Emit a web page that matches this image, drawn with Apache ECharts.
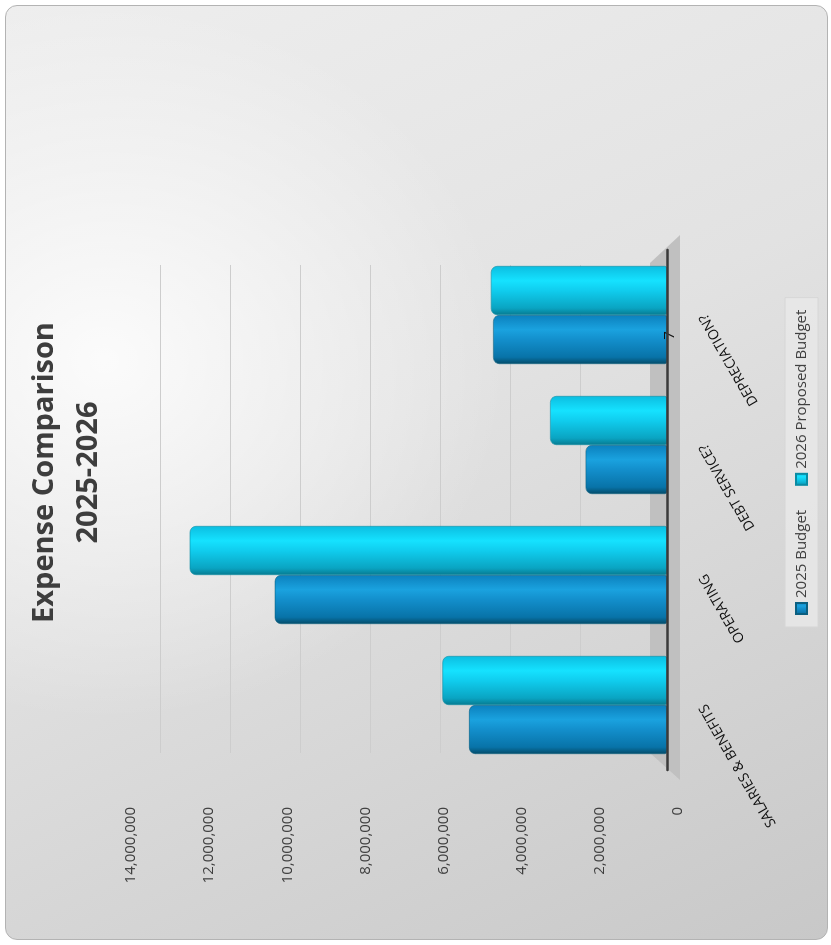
<!DOCTYPE html>
<html>
<head>
<meta charset="utf-8">
<script src="https://cdn.jsdelivr.net/npm/echarts@6/dist/echarts.min.js"></script>
<style>
  html, body { margin: 0; padding: 0; background: #fff; }
  #wrap { position: relative; width: 831px; height: 945px; overflow: hidden; background: #fff; }
  #panel {
    position: absolute; left: 5px; top: 5px; width: 821px; height: 933px;
    border: 1px solid #b3b3b3; border-radius: 12px;
    background:
      radial-gradient(ellipse 70% 55% at 12% 38%, rgba(255,255,255,0.85), rgba(255,255,255,0) 70%),
      linear-gradient(155deg, #eeeeee 0%, #e2e2e2 45%, #c8c8c8 100%);
  }
  /* chart is drawn upright, then turned a quarter to the left like the source */
  #chart {
    position: absolute; left: 0; top: 0; width: 945px; height: 831px;
    transform-origin: 0 0; transform: translate(0, 945px) rotate(-90deg);
  }
</style>
</head>
<body>
<div id="wrap">
  <div id="panel"></div>
  <div id="chart"></div>
</div>
<script>
// data
const categories = ['SALARIES & BENEFITS', 'OPERATING', 'DEBT SERVICE?', 'DEPRECIATION?'];
const budget2025 = [5350000, 10600000, 2200000, 4700000];
const budget2026 = [6070000, 12900000, 3160000, 4760000];
const seriesNames = ['2025 Budget', '2026 Proposed Budget'];
const axisMax = 14000000;
const axisStep = 2000000;

const FONT = '"Open Sans", "Noto Sans", sans-serif';

function cyl(stops) {
    return new echarts.graphic.LinearGradient(0, 0, 1, 0,
        stops.map(function (c) { return { offset: c[0], color: c[1] }; }));
}

const chart = echarts.init(document.getElementById('chart'), null, { renderer: 'canvas' });

const option = {
    backgroundColor: 'transparent',
    animation: false,
    title: {
        text: 'Expense Comparison\n2025-2026',
        left: 'center',
        top: 18,
        textStyle: { fontFamily: FONT, fontSize: 29, fontWeight: 'bold', color: '#3d3d3d', lineHeight: 44 }
    },
    legend: {
        data: seriesNames,
        left: 318,
        top: 785,
        orient: 'horizontal',
        icon: 'rect',
        itemWidth: 11,
        itemHeight: 11,
        itemGap: 24,
        padding: [9, 12],
        backgroundColor: 'rgba(232,232,232,0.85)',
        borderColor: '#d6d6d6',
        borderWidth: 1,
        textStyle: { fontFamily: FONT, fontSize: 15, color: '#404040' }
    },
    graphic: [{
        // grey floor under the bars
        type: 'polygon',
        z: 1,
        silent: true,
        shape: { points: [[192, 650], [682, 650], [710, 680], [165, 680]] },
        style: { fill: '#c0c0c0' }
    }],
    grid: [
        { left: 175, right: 250, top: 149, bottom: 164 },   // bars
        { left: 192, right: 265, top: 160, bottom: 181 },   // back wall lines
        { left: 146, right: 250, top: 131, bottom: 153 }    // value labels
    ],
    xAxis: [
        {
            gridIndex: 0, type: 'category', data: categories, offset: 14, z: 5,
            axisLine: { lineStyle: { color: '#3a3a3a', width: 2.5 } },
            axisTick: { show: false },
            axisLabel: { interval: 0, rotate: 30, margin: 22, fontFamily: FONT, fontSize: 14, color: '#111' }
        },
        { gridIndex: 1, type: 'category', data: categories, show: false },
        { gridIndex: 2, type: 'category', data: categories, show: false }
    ],
    yAxis: [
        { gridIndex: 0, type: 'value', min: 0, max: axisMax, interval: axisStep, show: false },
        {
            gridIndex: 1, type: 'value', min: 0, max: axisMax, interval: axisStep,
            axisLine: { show: false }, axisTick: { show: false }, axisLabel: { show: false },
            splitLine: { lineStyle: { color: '#cdcdcd', width: 1 } }
        },
        {
            gridIndex: 2, type: 'value', min: 0, max: axisMax, interval: axisStep,
            axisLine: { show: false }, axisTick: { show: false }, splitLine: { show: false },
            axisLabel: {
                margin: 8, fontFamily: FONT, fontSize: 15, color: '#404040',
                formatter: function (v) { return v.toLocaleString('en-US'); }
            }
        }
    ],
    series: [
        {
            name: seriesNames[0],
            type: 'bar',
            xAxisIndex: 0, yAxisIndex: 0,
            data: budget2025,
            barWidth: 49,
            barGap: '0%',
            z: 2,
            color: '#0a7fbf',
            itemStyle: {
                color: cyl([[0, '#044b68'], [0.14, '#0873a8'], [0.5, '#138fcc'], [0.7, '#1aa2df'], [1, '#0b80bd']]),
                borderColor: '#0b5f80', borderWidth: 0.6, borderRadius: [6, 6, 2, 2]
            },
            label: {
                show: true, position: 'bottom', distance: -5, offset: [4, 0],
                fontFamily: FONT, fontSize: 15, color: '#111',
                formatter: function (p) { return p.dataIndex === 3 ? '7' : ''; }
            }
        },
        {
            name: seriesNames[1],
            type: 'bar',
            xAxisIndex: 0, yAxisIndex: 0,
            data: budget2026,
            barWidth: 49,
            barGap: '0%',
            z: 2,
            color: '#12c8ea',
            itemStyle: {
                color: cyl([[0, '#067a90'], [0.14, '#0aa4c2'], [0.5, '#10cdee'], [0.7, '#15e2ff'], [1, '#0cbde0']]),
                borderColor: '#0a8ba3', borderWidth: 0.6, borderRadius: [6, 6, 2, 2]
            }
        }
    ]
};

chart.setOption(option);
</script>
</body>
</html>
